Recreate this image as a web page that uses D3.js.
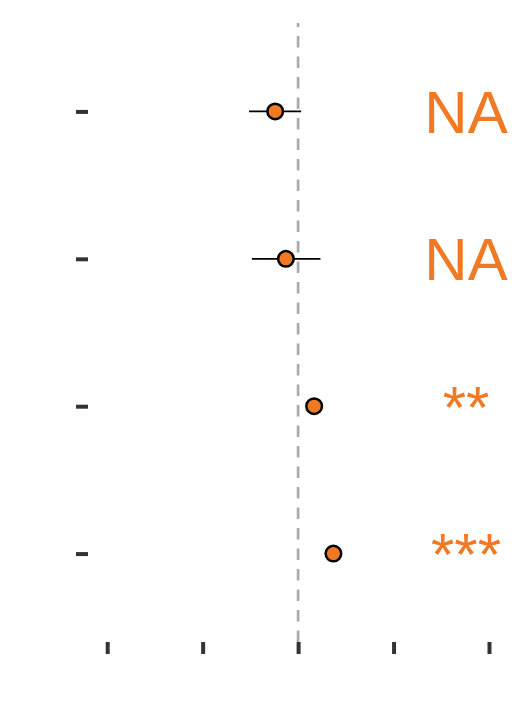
<!DOCTYPE html>
<html>
<head>
<meta charset="utf-8">
<script src="https://cdn.jsdelivr.net/npm/d3@7"></script>
<style>
  html, body { margin: 0; padding: 0; background: #fff; }
  svg { display: block; }
</style>
</head>
<body>
<svg id="chart" width="531" height="708"></svg>
<script>
// ---- data ----
const terms = ["term1", "term2", "term3", "term4"];
const estimates = [-0.12, -0.064, 0.084, 0.185];
const lower = [-0.257, -0.242, 0.065, 0.165];
const upper = [0.016, 0.117, 0.105, 0.205];
const labels = ["NA", "NA", "**", "***"];
const xTicks = [-1, -0.5, 0, 0.5, 1];

// ---- layout ----
const panel = { left: 88, right: 510, top: 23, bottom: 642 };
const orange = "#EF7A23";
const svg = d3.select("#chart");

const x = d3.scaleLinear().domain([-1, 1]).range([107.2, 489]);
const y = d3.scalePoint().domain(terms).range([panel.top, panel.bottom]).padding(0.6);

// reference line at zero
svg.append("line")
  .attr("x1", x(0)).attr("x2", x(0))
  .attr("y1", panel.bottom).attr("y2", panel.top)
  .attr("stroke", "#aaaaaa")
  .attr("stroke-width", 2.7)
  .attr("stroke-dasharray", "11.5,9");

// axes (tick marks only)
const xAxis = svg.append("g")
  .attr("transform", `translate(0,${panel.bottom})`)
  .call(d3.axisBottom(x).tickValues(xTicks).tickSize(12).tickFormat(""));
const yAxis = svg.append("g")
  .attr("transform", `translate(${panel.left},0)`)
  .call(d3.axisLeft(y).tickSize(12).tickFormat(""));
[xAxis, yAxis].forEach(g => {
  g.select(".domain").remove();
  g.selectAll(".tick line").attr("stroke", "#333333").attr("stroke-width", 4);
});

const rows = terms.map((t, i) => ({ t, est: estimates[i], lo: lower[i], hi: upper[i], lab: labels[i] }));

// error bars
svg.append("g").selectAll("line").data(rows).join("line")
  .attr("x1", d => x(d.lo)).attr("x2", d => x(d.hi))
  .attr("y1", d => y(d.t)).attr("y2", d => y(d.t))
  .attr("stroke", "#000").attr("stroke-width", 1.8);

// points
svg.append("g").selectAll("circle").data(rows).join("circle")
  .attr("cx", d => x(d.est)).attr("cy", d => y(d.t))
  .attr("r", 7.8)
  .attr("fill", orange)
  .attr("stroke", "#000").attr("stroke-width", 2.5);

// significance labels
svg.append("g").selectAll("text").data(rows).join("text")
  .attr("x", 466)
  .attr("y", d => y(d.t) + 21.5)
  .attr("text-anchor", "middle")
  .attr("font-family", "'Liberation Sans', Arial, Helvetica, sans-serif")
  .attr("font-size", 60)
  .attr("fill", orange)
  .text(d => d.lab);
</script>
</body>
</html>
